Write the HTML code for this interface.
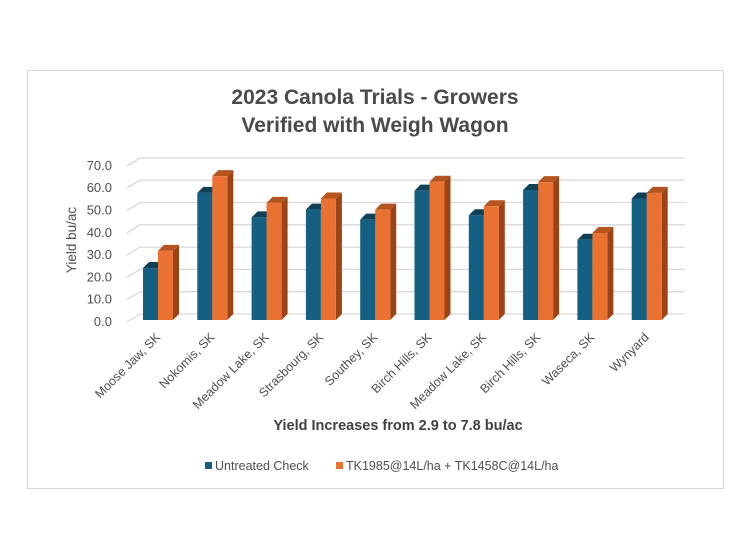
<!DOCTYPE html>
<html><head><style>
html,body{margin:0;padding:0;background:#fff}
svg{display:block}
text{font-family:"Liberation Sans",sans-serif}
</style></head><body>
<svg width="751" height="560" viewBox="0 0 751 560">
<rect x="27.5" y="70.5" width="696" height="418" fill="#fff" stroke="#d9d9d9"/>
<text x="375" y="104" text-anchor="middle" font-size="21" font-weight="bold" fill="#4a4a4a">2023 Canola Trials - Growers</text>
<text x="375" y="132" text-anchor="middle" font-size="21" font-weight="bold" fill="#4a4a4a">Verified with Weigh Wagon</text>
<g stroke="#d9d9d9" stroke-width="1.3" fill="none" id="grid"></g>
<g id="ylab" font-size="13" fill="#4f4f4f" text-anchor="end"></g>
<text transform="translate(76,240) rotate(-90)" text-anchor="middle" font-size="13.5" fill="#4f4f4f">Yield bu/ac</text>
<g id="bars"></g>
<g id="xlab" font-size="12.5" fill="#4f4f4f" text-anchor="end"></g>
<text x="398" y="430" text-anchor="middle" font-size="14.5" font-weight="bold" fill="#404040">Yield Increases from 2.9 to 7.8 bu/ac</text>
<rect x="205" y="462" width="7" height="7" fill="#156082"/>
<text x="215" y="470" font-size="12.5" fill="#4f4f4f">Untreated Check</text>
<rect x="336" y="462" width="7" height="7" fill="#e97132"/>
<text x="346" y="470" font-size="12.5" fill="#4f4f4f">TK1985@14L/ha + TK1458C@14L/ha</text>
</svg>
<script>
var ns="http://www.w3.org/2000/svg";
function el(p,t,a,txt){var e=document.createElementNS(ns,t);for(var k in a)e.setAttribute(k,a[k]);if(txt)e.textContent=txt;document.getElementById(p).appendChild(e);}
var base=320,sc=2.23,dx=6,dy=6;
for(var i=0;i<=7;i++){var y=base-i*10*sc;
 el("grid","polyline",{points:(127)+","+(y+2)+" "+(140)+","+(y-dy)+" 685,"+(y-dy)});
 el("ylab","text",{x:112,y:y+6},(i*10).toFixed(1));}
var b=[23.3,57,46,49.5,45,58,47,58.3,36,54.5],o=[31,64.5,52.5,54.5,49.5,62,51,61.8,39,57];
var names=["Moose Jaw, SK","Nokomis, SK","Meadow Lake, SK","Strasbourg, SK","Southey, SK","Birch Hills, SK","Meadow Lake, SK","Birch Hills, SK","Waseca, SK","Wynyard"];
function bar(x,v,c,side,top){var h=v*sc,y=base-h,w=15;
 el("bars","polygon",{points:(x+w)+","+y+" "+(x+w+dx)+","+(y-dy)+" "+(x+w+dx)+","+(base-dy)+" "+(x+w)+","+base,fill:side});
 el("bars","polygon",{points:x+","+y+" "+(x+dx)+","+(y-dy)+" "+(x+w+dx)+","+(y-dy)+" "+(x+w)+","+y,fill:top});
 el("bars","rect",{x:x,y:y,width:w,height:h,fill:c});}
for(var i=0;i<10;i++){var x=143+i*54.3;
 bar(x,b[i],"#156082","#0e4058","#0e4058");
 bar(x+15,o[i],"#e97132","#9c4416","#b5541f");
 var cx=x+18;
 el("xlab","text",{x:cx,y:338,transform:"rotate(-45 "+cx+" 338)"},names[i]);}
</script>
</body></html>
